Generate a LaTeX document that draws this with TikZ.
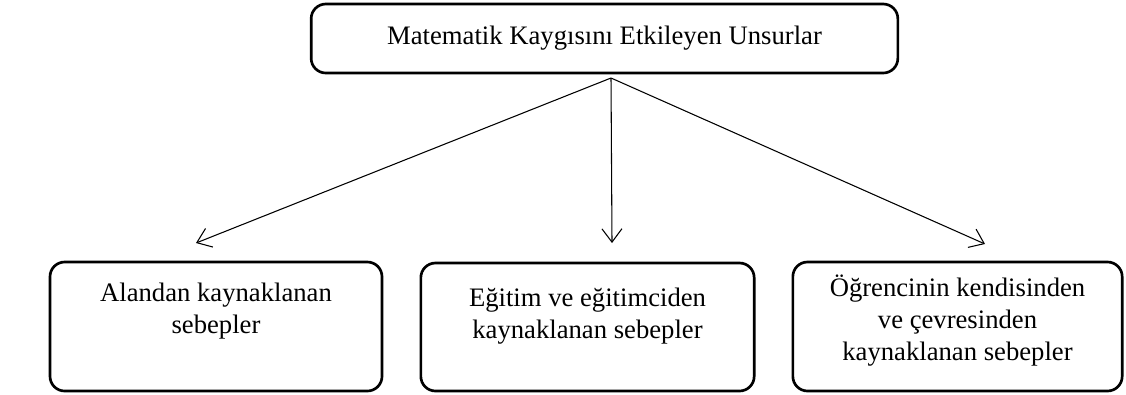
\documentclass[tikz,border=0pt]{standalone}
\usepackage{fontspec}
\setmainfont{Liberation Serif}
\usetikzlibrary{arrows.meta}
\tikzset{>={Straight Barb[length=10pt, width=15pt]}}
\tikzset{box/.style={draw, line width=2pt, rounded corners=11pt, inner sep=0pt, font=\fontsize{20}{24}\selectfont}}
\newcommand{\causetext}[2]{\parbox[c][96pt][t]{240pt}{\centering\vspace*{#1}\strut #2}}

\begin{document}
\begin{tikzpicture}[x=0.75pt, y=-0.75pt]
    \useasboundingbox(0, 0)rectangle(1126, 394);
    \node[box, minimum width=440pt, minimum height=51.75pt](top)at(604.5, 38.5){Matematik Kaygısını Etkileyen Unsurlar};
    \node[box, minimum width=249pt, minimum height=96.75pt](field)at(216, 326.5){\causetext{12.8pt}{Alandan kaynaklanan\\sebepler}};
    \node[box, minimum width=250pt, minimum height=96pt](teach)at(587.5, 327){\causetext{15.8pt}{Eğitim ve eğitimciden\\kaynaklanan sebepler}};
    \node[box, minimum width=247pt, minimum height=96.75pt](self)at(957.5, 326.5){\causetext{8.8pt}{Öğrencinin kendisinden\\ve çevresinden\\kaynaklanan sebepler}};
    \coordinate(fork)at(611, 78);
    \coordinate(fieldin)at(196, 243);
    \coordinate(teachin)at(612, 243);
    \coordinate(selfin)at(985, 244);
    \draw[->, line width=0.8pt](fork)--(fieldin);
    \draw[->, line width=0.8pt](fork)--(teachin);
    \draw[->, line width=0.8pt](fork)--(selfin);
\end{tikzpicture}
\end{document}
